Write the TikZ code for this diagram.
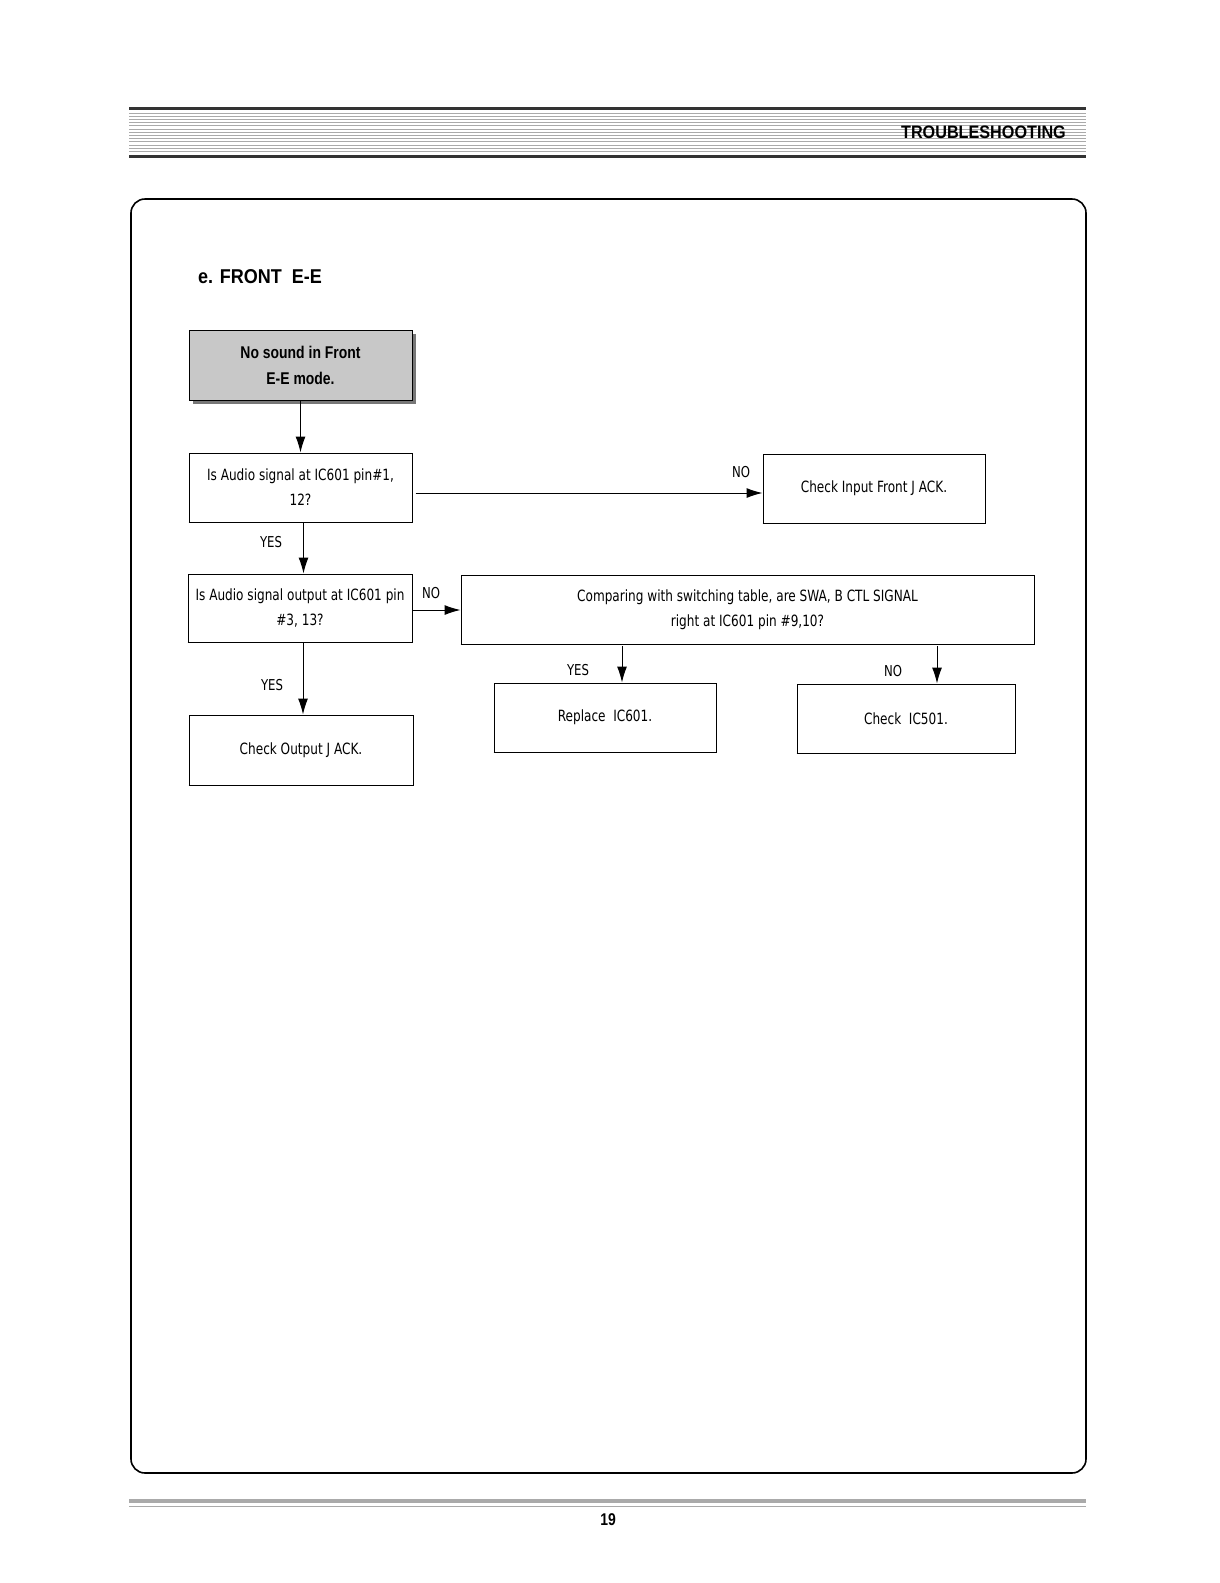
\documentclass[tikz,border=0pt]{standalone}
\usepackage{fontspec}
\setmainfont{Liberation Sans}
\newfontfamily\boxfont[FakeStretch=0.78]{DejaVu Sans}
\newfontfamily\headfont[FakeStretch=0.82]{Liberation Sans}
\newfontfamily\titlefont[FakeStretch=0.9]{Liberation Sans}
\usetikzlibrary{arrows.meta}
\definecolor{barcol}{HTML}{333333}
\definecolor{stripe}{HTML}{AAAAAA}
\definecolor{boxgray}{HTML}{C8C8C8}
\definecolor{shadowgray}{HTML}{777777}
\tikzset{
  fbox/.style={draw=black, line width=1pt, fill=white, minimum width=#1, inner sep=0pt, align=center,
     font=\boxfont\fontsize{15.5}{25}\selectfont},
  fbox/.default=222pt,
  lbl/.style={font=\boxfont\fontsize{15}{16}\selectfont, inner sep=0pt},
  arr/.style={line width=1pt, -{Latex[length=16pt,width=10pt]}},
}
\begin{document}
\begin{tikzpicture}[x=1pt,y=-1pt]
\useasboundingbox (0,0) rectangle (1220,1583);
% header
\fill[barcol] (129,106.5) rectangle (1086,110);
\foreach \k in {0,...,12} {\draw[stripe, line width=1pt] (129,113+3.2*\k) -- (1086,113+3.2*\k);}
\fill[barcol] (129,154.5) rectangle (1086,158);
\node[anchor=east, inner sep=0pt, font=\titlefont\bfseries\fontsize{18}{18}\selectfont] (hdr) at (1066,132) {TROUBLESHOOTING};
% outer frame
\draw[line width=1.6pt, rounded corners=14pt] (131,199) rectangle (1086,1473);
% title
\node[anchor=west, inner sep=0pt, font=\titlefont\bfseries\fontsize{20}{20}\selectfont] (title) at (198,277) {e. FRONT\ \ E-E};
% start box with shadow
\fill[shadowgray] (193,334) rectangle (416,404);
\node[draw=black, line width=1pt, fill=boxgray, minimum width=223pt, minimum height=70pt, align=center,
  font=\headfont\bfseries\fontsize{17}{26}\selectfont] (b1) at (300.5,365) {No sound in Front\\E-E mode.};
% boxes
\node[fbox=223pt, minimum height=69pt] (b2) at (300.5,487.5) {Is Audio signal at IC601 pin\#1,\\12?};
\node[fbox=222pt, minimum height=69pt] (b3) at (874,488.5) {Check Input Front J ACK.};
\node[fbox=224pt, minimum height=68pt] (b4) at (300,608) {Is Audio signal output at IC601 pin\\\#3, 13?};
\node[fbox=573pt, minimum height=69pt] (b5) at (747.5,609.5) {Comparing with switching table, are SWA, B CTL SIGNAL\\right at IC601 pin \#9,10?};
\node[fbox=222pt, minimum height=69pt] (b6) at (605,717.5) {Replace\ \ IC601.};
\node[fbox=218pt, minimum height=69pt] (b7) at (906,718.5) {Check\ \ IC501.};
\node[fbox=224pt, minimum height=70pt] (b8) at (301,750) {Check Output J ACK.};
% thicker bottom/right edges
\foreach \n in {b2,b3,b4,b5,b6,b7,b8} {
  \draw[line width=1.6pt] (\n.south west) -- (\n.south east) -- (\n.north east);
}
% connectors
\draw[arr] (b1.south) -- (b2.north);
\draw[arr] ([xshift=3pt]b2.south) -- ([xshift=3pt]b2.south |- b4.north);
\draw[arr] ([xshift=3pt,yshift=-5.5pt]b2.east) -- ([yshift=-5.5pt]b2.east -| b3.west);
\draw[arr] ([yshift=-2pt]b4.east) -- ([yshift=-2pt]b4.east -| b5.west);
\draw[arr] ([xshift=3pt]b4.south) -- ([xshift=3pt]b4.south |- b8.north);
\coordinate (c6) at (622,646);
\coordinate (c7) at (937,646);
\draw[arr] (c6) -- (c6 |- b6.north);
\draw[arr] (c7) -- (c7 |- b7.north);
% labels
\node[lbl] (l1) at (741,472) {NO};
\node[lbl] (l2) at (271,542) {YES};
\node[lbl] (l3) at (431,593) {NO};
\node[lbl] (l4) at (578,670) {YES};
\node[lbl] (l5) at (893,671) {NO};
\node[lbl] (l6) at (272,685) {YES};
% footer
\fill[stripe] (129,1499) rectangle (1086,1503);
\draw[stripe, line width=1pt] (129,1506.5) -- (1086,1506.5);
\node[inner sep=0pt, font=\headfont\bfseries\fontsize{17}{17}\selectfont] (pg) at (608,1520) {19};
\end{tikzpicture}
\end{document}
